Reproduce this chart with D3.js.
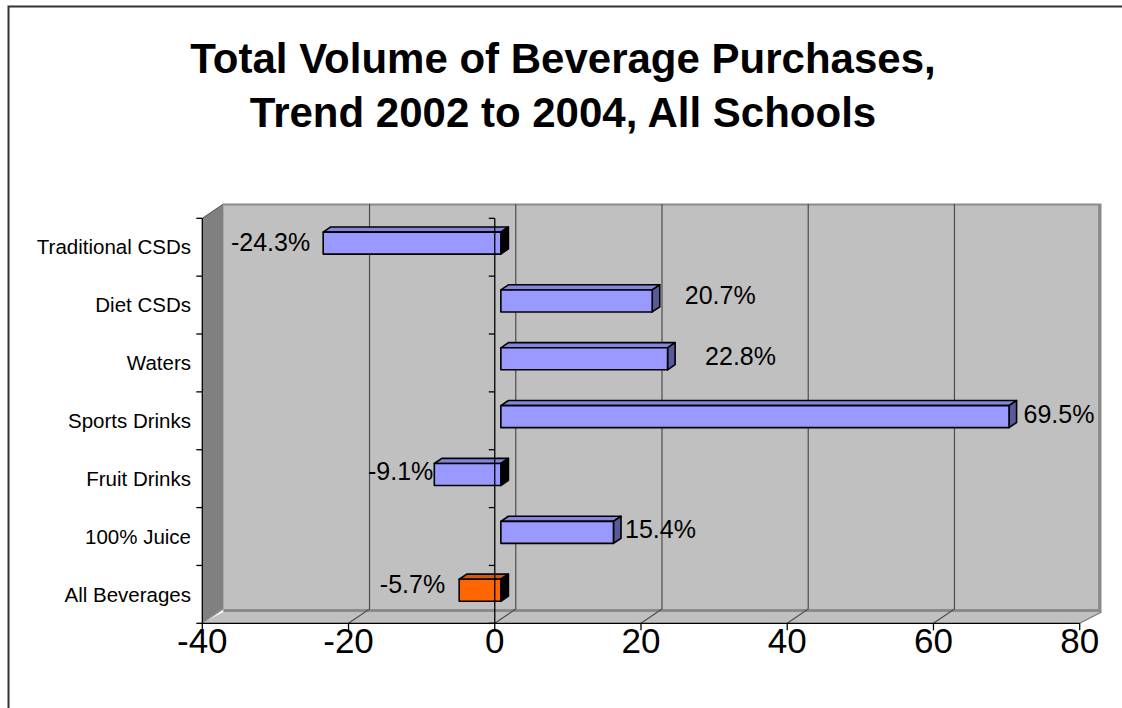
<!DOCTYPE html>
<html>
<head>
<meta charset="utf-8">
<script src="https://cdn.jsdelivr.net/npm/d3@7/dist/d3.min.js"></script>
<style>
  html, body { margin: 0; padding: 0; background: #fff; overflow: hidden; }
  svg { display: block; }
  text { font-family: "Liberation Sans", Arial, sans-serif; }
</style>
</head>
<body>
<svg id="chart" width="1122" height="708"></svg>
<script>
// ---- data ----
const titleLines = ["Total Volume of Beverage Purchases,", "Trend 2002 to 2004, All Schools"];
const categories = ["Traditional CSDs", "Diet CSDs", "Waters", "Sports Drinks", "Fruit Drinks", "100% Juice", "All Beverages"];
const changePct = [-24.3, 20.7, 22.8, 69.5, -9.1, 15.4, -5.7];
const valueTicks = [-40, -20, 0, 20, 40, 60, 80];
const highlight = ["All Beverages"];

// ---- layout ----
const svg = d3.select("#chart");
const W = 1122, H = 708;

// number formatting with a plain hyphen for negatives
const locale = d3.formatLocale({ decimal: ".", thousands: ",", grouping: [3], currency: ["$", ""], minus: "-" });
const fmtPct = d => locale.format(".1f")(d) + "%";
const fmtTick = locale.format("d");

// front plane of the 3D box
const x = d3.scaleLinear().domain([-40, 80]).range([202.3, 1079.7]);
const y = d3.scaleBand().domain(categories).range([218.3, 623.3]);
const depth = { dx: 21, dy: -14.3 };          // offset from front plane to back wall
const P = (v, yy, z) => [x(v) + z * depth.dx, yy + z * depth.dy];
const yTop = y.range()[0], yBottom = y.range()[1];
const vMin = x.domain()[0], vMax = x.domain()[1];

// bar slab sits between these depths
const z0 = 0.29, z1 = 0.65;
const barH = 22;

// per-label nudges (gap from bar end, vertical shift)
const labelGap = [13, 25, 30, 7, 1, 4, 14];
const labelDy = [-0.6, -5.5, -3.1, -2.9, -3.5, -3.2, -6.6];

const poly = pts => pts.map(p => p.join(",")).join(" ");

// outer frame (left and top edges fall inside the view)
svg.append("path")
  .attr("d", `M8.5,${H + 5}V6.5H${W + 5}`)
  .attr("fill", "none").attr("stroke", "#333").attr("stroke-width", 2);

// title
svg.append("g").selectAll("text").data(titleLines).join("text")
  .attr("x", 563).attr("y", (d, i) => 73 + i * 54)
  .attr("text-anchor", "middle")
  .attr("font-size", 42).attr("font-weight", "bold").attr("fill", "#000")
  .text(d => d);

// ---- walls and floor ----
const walls = svg.append("g");
// back wall slab (edge)
const bwTL = P(vMin, yTop, 1), bwBR = P(vMax, yBottom, 1);
walls.append("rect")
  .attr("x", bwTL[0]).attr("y", bwTL[1] - 0.5)
  .attr("width", bwBR[0] - bwTL[0] + 0.8).attr("height", bwBR[1] - bwTL[1] + 3.5)
  .attr("fill", "#8a8a8a");
// back wall face
walls.append("rect")
  .attr("x", bwTL[0]).attr("y", bwTL[1] + 1.5)
  .attr("width", bwBR[0] - bwTL[0] - 2.6).attr("height", bwBR[1] - bwTL[1] - 1.5)
  .attr("fill", "#c0c0c0");
// floor
walls.append("polygon")
  .attr("points", poly([P(vMin, yBottom, 0), P(vMax, yBottom, 0),
    [P(vMax, yBottom, 1)[0] + 0.8, P(vMax, yBottom, 1)[1] + 3], [P(vMin, yBottom, 1)[0], P(vMin, yBottom, 1)[1] + 3]]))
  .attr("fill", "#c0c0c0");
// left wall
walls.append("polygon")
  .attr("points", poly([P(vMin, yTop, 0), P(vMin, yTop, 1), P(vMin, yBottom, 1), P(vMin, yBottom, 0)]))
  .attr("fill", "#808080");
walls.append("line")
  .attr("x1", P(vMin, yTop, 0)[0]).attr("y1", P(vMin, yTop, 0)[1])
  .attr("x2", P(vMin, yTop, 1)[0]).attr("y2", P(vMin, yTop, 1)[1])
  .attr("stroke", "#555").attr("stroke-width", 1);

// gridlines: back wall + floor
const grid = svg.append("g").attr("stroke", "#4d4d4d").attr("stroke-width", 1.2).attr("fill", "none");
valueTicks.filter(v => v > vMin && v < vMax).forEach(v => {
  grid.append("polyline")
    .attr("points", poly([P(v, yTop, 1), P(v, yBottom, 1), P(v, yBottom, 0)]));
});
// floor side edges
grid.append("line")
  .attr("x1", P(vMax, yBottom, 1)[0] + 0.8).attr("y1", P(vMax, yBottom, 1)[1] + 3)
  .attr("x2", P(vMax, yBottom, 0)[0]).attr("y2", P(vMax, yBottom, 0)[1])
  .attr("stroke", "#777");
grid.append("line")
  .attr("x1", P(vMin, yBottom, 1)[0]).attr("y1", P(vMin, yBottom, 1)[1])
  .attr("x2", P(vMin, yBottom, 0)[0]).attr("y2", P(vMin, yBottom, 0)[1])
  .attr("stroke", "#999");

// ---- bars ----
const bars = svg.append("g").attr("stroke", "#000").attr("stroke-width", 1.6).attr("stroke-linejoin", "round");
categories.forEach((c, i) => {
  const v = changePct[i];
  const isHi = highlight.includes(c);
  const front = isHi ? "#ff6600" : "#9999ff";
  const topFill = isHi ? "#d95700" : "#8585e0";
  const endFill = v >= 0 ? (isHi ? "#993d00" : "#5a5a99") : "#000";
  const yc = y(c) + y.bandwidth() / 2;
  const y1 = yc - barH / 2, y2 = yc + barH / 2;
  const lo = Math.min(0, v), hi = Math.max(0, v);
  // top face
  bars.append("polygon")
    .attr("points", poly([P(lo, y1, z0), P(hi, y1, z0), P(hi, y1, z1), P(lo, y1, z1)]))
    .attr("fill", topFill);
  // right end face
  bars.append("polygon")
    .attr("points", poly([P(hi, y1, z0), P(hi, y1, z1), P(hi, y2, z1), P(hi, y2, z0)]))
    .attr("fill", endFill);
  // front face
  const a = P(lo, y1, z0), b = P(hi, y2, z0);
  bars.append("rect")
    .attr("x", a[0]).attr("y", a[1]).attr("width", b[0] - a[0]).attr("height", b[1] - a[1])
    .attr("fill", front);
});

// ---- axes ----
const axes = svg.append("g").attr("stroke", "#000").attr("stroke-width", 1.3);
// bottom value axis along the floor front edge
axes.append("line")
  .attr("x1", x(vMin)).attr("x2", x(vMax)).attr("y1", yBottom).attr("y2", yBottom);
valueTicks.forEach(v => {
  axes.append("line").attr("x1", x(v)).attr("x2", x(v)).attr("y1", yBottom).attr("y2", yBottom + 7);
});
// left edge and category axis at zero
const bounds = categories.map(c => y(c)).concat([yBottom]);
[vMin, 0].forEach(v => {
  axes.append("line").attr("x1", x(v)).attr("x2", x(v)).attr("y1", yTop).attr("y2", yBottom);
  bounds.forEach(b => {
    axes.append("line").attr("x1", x(v) - 6).attr("x2", x(v)).attr("y1", b).attr("y2", b);
  });
});

// value tick labels
svg.append("g").selectAll("text").data(valueTicks).join("text")
  .attr("x", d => x(d)).attr("y", yBottom + 30)
  .attr("text-anchor", "middle").attr("font-size", 35).attr("fill", "#000")
  .text(d => fmtTick(d));

// category labels
svg.append("g").selectAll("text").data(categories).join("text")
  .attr("x", 191).attr("y", d => y(d) + y.bandwidth() / 2)
  .attr("dy", "0.35em").attr("text-anchor", "end")
  .attr("font-size", 20.5).attr("fill", "#000")
  .text(d => d);

// data labels
svg.append("g").selectAll("text").data(categories).join("text")
  .attr("x", (c, i) => {
    const v = changePct[i];
    return v >= 0 ? P(v, 0, z1)[0] + labelGap[i] : P(v, 0, z0)[0] - labelGap[i];
  })
  .attr("y", (c, i) => y(c) + y.bandwidth() / 2 + z0 * depth.dy + labelDy[i])
  .attr("dy", "0.36em")
  .attr("text-anchor", (c, i) => changePct[i] >= 0 ? "start" : "end")
  .attr("font-size", 25).attr("fill", "#000")
  .text((c, i) => fmtPct(changePct[i]));
</script>
</body>
</html>
